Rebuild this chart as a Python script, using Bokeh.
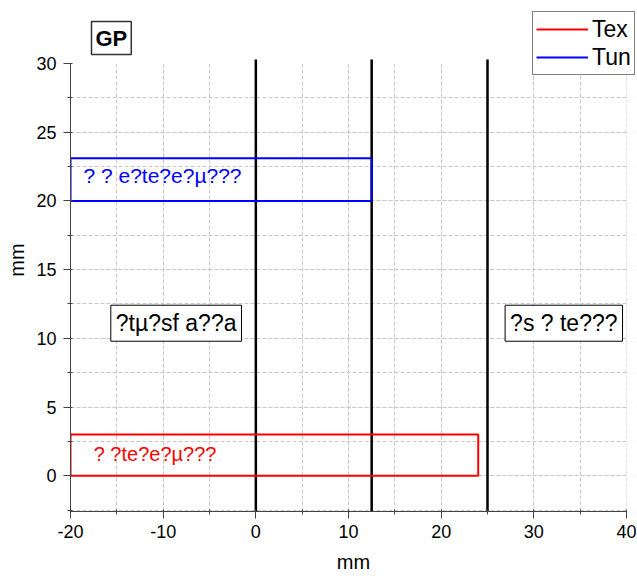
from bokeh.plotting import figure
from bokeh.models import Range1d, SingleIntervalTicker, Label, Legend, LegendItem, PrintfTickFormatter
from bokeh.embed import file_html
from bokeh.resources import INLINE

# data
vline_x = [0, 12.5, 25]
x_min, x_max = -20, 40
y_min, y_max = -2.6, 30
vline_top = 30.3
tex_x = [-20, 24, 24, -20, -20]
tex_y = [0, 0, 3, 3, 0]
tun_x = [-20, 12.5, 12.5, -20, -20]
tun_y = [20, 20, 23.1, 23.1, 20]
series_names = ["Tex", "Tun"]
tex_label = "? ?te?e?µ???"
tun_label = "? ? e?te?e?µ???"
box_labels = ["?tµ?sf a??a", "?s ? te???"]
box_label_x = [-15.65, 26.9]
box_label_y = [11.1, 11.1]
panel_label = "GP"

FONT = "Liberation Sans"
W, H = 637, 576
FL, FT, FB, FR = 70, 8, 511, 636      # frame edges in pixels
PX_X = (626 - 70) / (x_max - x_min)   # pixels per unit along x
PX_Y = (511 - 63) / (y_max - y_min)   # pixels per unit along y
x_end = x_max + (FR - 626) / PX_X
y_end = y_max + (63 - FT) / PX_Y

p = figure(width=W, height=H, output_backend="svg", toolbar_location=None,
           x_range=Range1d(x_min, x_end), y_range=Range1d(y_min, y_end),
           min_border_left=FL, min_border_right=W - FR, min_border_top=FT,
           min_border_bottom=H - FB)
p.outline_line_color = None
p.background_fill_color = "white"

p.xaxis.ticker = SingleIntervalTicker(interval=10, num_minor_ticks=2)
p.yaxis.ticker = SingleIntervalTicker(interval=5, num_minor_ticks=2)
p.xaxis.formatter = PrintfTickFormatter(format="%d")
p.yaxis.formatter = PrintfTickFormatter(format="%d")
p.xaxis.bounds = (x_min, x_max)
p.yaxis.bounds = (y_min, y_max)
for ax in (p.xaxis, p.yaxis):
    ax.axis_label = "mm"
    ax.axis_label_text_font = FONT
    ax.axis_label_text_font_size = "20px"
    ax.axis_label_text_font_style = "normal"
    ax.axis_label_text_color = "black"
    ax.major_label_text_font = FONT
    ax.major_label_text_font_size = "18px"
    ax.major_label_text_color = "black"
    ax.axis_line_color = "#444444"
    ax.major_tick_line_color = "#444444"
    ax.minor_tick_line_color = "#444444"
    ax.major_tick_out = 7
    ax.major_tick_in = 0
    ax.minor_tick_out = 3
    ax.minor_tick_in = 2
p.xaxis.major_label_standoff = 6
p.xaxis.axis_label_standoff = 10
p.yaxis.major_label_standoff = 7
p.yaxis.axis_label_standoff = 5

for g in (p.xgrid, p.ygrid):
    g.grid_line_color = "#c8c8c8"
    g.grid_line_dash = "4 2"
    g.minor_grid_line_color = "#c8c8c8"
    g.minor_grid_line_dash = "4 2"

# white cover so the grid stops at the axis ends
p.quad(left=[x_min, x_max], right=[x_end, x_end], bottom=[y_max - 0.05, y_min],
       top=[y_end, y_end], fill_color="white", line_color=None)

# vertical black lines
p.segment(x0=vline_x, y0=[y_min] * 3, x1=vline_x, y1=[vline_top] * 3,
          line_color="black", line_width=2.5)

r_tex = p.line(tex_x, tex_y, line_color="red", line_width=2)
r_tun = p.line(tun_x, tun_y, line_color="blue", line_width=2)

p.add_layout(Label(x=-18.6, y=21.85, text=tun_label, text_color="blue",
                   text_font=FONT, text_font_size="21px", text_baseline="middle"))
p.add_layout(Label(x=-17.5, y=1.6, text=tex_label, text_color="red",
                   text_font=FONT, text_font_size="20px", text_baseline="middle"))
for t, x, y in zip(box_labels, box_label_x, box_label_y):
    p.add_layout(Label(x=x, y=y, text=t, text_color="black", text_font=FONT,
                       text_font_size="23px", text_baseline="middle",
                       border_line_color="black", border_line_width=1,
                       background_fill_color="white", padding=5))

p.add_layout(Label(x=21, y=457, x_units="screen", y_units="screen", text=panel_label,
                   text_font=FONT, text_font_size="22px", text_font_style="bold",
                   text_color="black", border_line_color="#333333", border_line_width=1.5,
                   background_fill_color="white", padding=4))

legend = Legend(items=[LegendItem(label=series_names[0], renderers=[r_tex]),
                       LegendItem(label=series_names[1], renderers=[r_tun])],
                location=(532 - FL, FB - 75), orientation="vertical",
                label_text_font=FONT, label_text_font_size="23px",
                label_text_color="black",
                border_line_color="black", border_line_width=1,
                background_fill_color="white", background_fill_alpha=1,
                padding=3, spacing=0, margin=0, glyph_width=52, glyph_height=28,
                label_standoff=4, label_height=28)
p.add_layout(legend, "center")

open("out.html", "w").write(file_html(p, INLINE))
